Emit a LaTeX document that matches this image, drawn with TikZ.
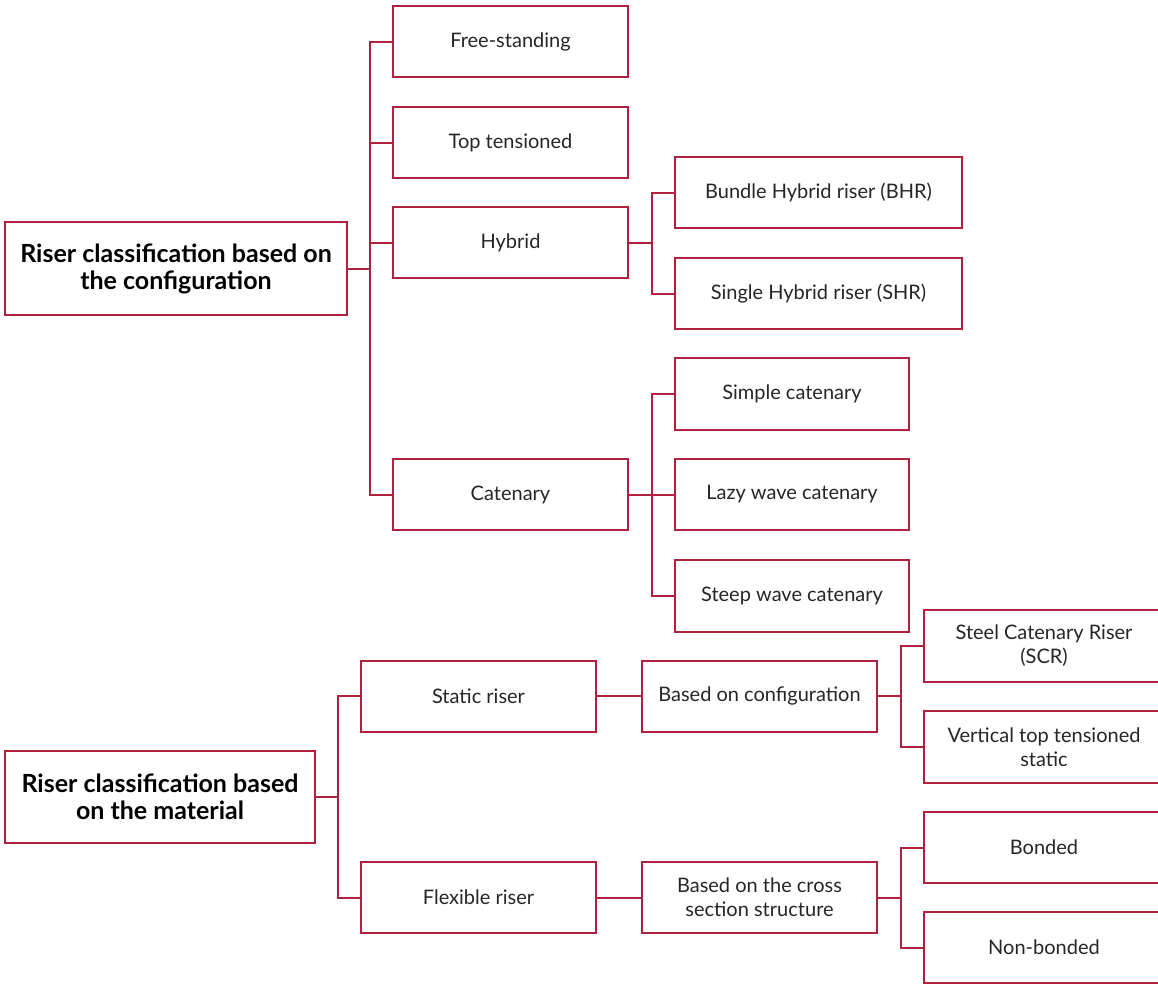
\documentclass[tikz,border=0pt]{standalone}
\usepackage{fontspec}
\setmainfont{Lato}
\definecolor{rc}{RGB}{178,32,64}
\begin{document}
\begin{tikzpicture}[x=1pt,y=-1pt,
  bx/.style={draw=rc,line width=2pt,fill=white,inner sep=0pt,align=center,font=\fontsize{20}{24}\selectfont,text=black!85},
  rootbx/.style={bx,font=\bfseries\fontsize{25}{27}\selectfont,text=black},
  ln/.style={draw=rc,line width=2pt}]
\useasboundingbox (0,0) rectangle (1158,985);
% top tree
\node[rootbx,minimum width=342pt,minimum height=93pt] (r1) at (176,268.5) {Riser classification based on\\the configuration};
\node[bx,minimum width=235pt,minimum height=71pt] (fs) at (510.5,41.5) {Free-standing};
\node[bx,minimum width=235pt,minimum height=71pt] (tt) at (510.5,142.5) {Top tensioned};
\node[bx,minimum width=235pt,minimum height=71pt] (hy) at (510.5,242.5) {Hybrid};
\node[bx,minimum width=235pt,minimum height=71pt] (ca) at (510.5,494.5) {Catenary};
\node[bx,minimum width=287pt,minimum height=71pt] (bhr) at (818.5,192.5) {Bundle Hybrid riser (BHR)};
\node[bx,minimum width=287pt,minimum height=71pt] (shr) at (818.5,293.5) {Single Hybrid riser (SHR)};
\node[bx,minimum width=234pt,minimum height=72pt] (sc) at (792,394) {Simple catenary};
\node[bx,minimum width=234pt,minimum height=71pt] (lw) at (792,494.5) {Lazy wave catenary};
\node[bx,minimum width=234pt,minimum height=72pt] (sw) at (792,596) {Steep wave catenary};
\coordinate (t1) at (370,0);
\coordinate (t2) at (652,0);
\draw[ln] (r1.east) -- (r1.east -| t1);
\draw[ln] (fs.west) -| (t1 |- ca.west) -- (ca.west);
\draw[ln] (tt.west) -- (tt.west -| t1);
\draw[ln] (hy.west) -- (hy.west -| t1);
\draw[ln] (hy.east) -- (hy.east -| t2);
\draw[ln] (bhr.west) -| (t2 |- shr.west) -- (shr.west);
\draw[ln] (ca.east) -- (lw.west);
\draw[ln] (sc.west) -| (t2 |- sw.west) -- (sw.west);
% bottom tree
\node[rootbx,minimum width=310pt,minimum height=92pt] (r2) at (160,797) {Riser classification based\\on the material};
\node[bx,minimum width=235pt,minimum height=71pt] (st) at (478.5,696) {Static riser};
\node[bx,minimum width=235pt,minimum height=71pt] (fl) at (478.5,897.5) {Flexible riser};
\node[bx,minimum width=235pt,minimum height=71pt] (bc) at (759.5,696) {Based on configuration};
\node[bx,minimum width=235pt,minimum height=71pt] (bx2) at (759.5,897.5) {Based on the cross\\section structure};
\node[bx,minimum width=240pt,minimum height=72pt,anchor=west] (scr) at (923,646) {Steel Catenary Riser\\(SCR)};
\node[bx,minimum width=240pt,minimum height=72pt,anchor=west] (vtt) at (923,747) {Vertical top tensioned\\static};
\node[bx,minimum width=240pt,minimum height=71pt,anchor=west] (bo) at (923,847.5) {Bonded};
\node[bx,minimum width=240pt,minimum height=71pt,anchor=west] (nb) at (923,947.5) {Non-bonded};
\coordinate (t3) at (338,0);
\coordinate (t4) at (901,0);
\draw[ln] (r2.east) -- (r2.east -| t3);
\draw[ln] (st.west) -| (t3 |- fl.west) -- (fl.west);
\draw[ln] (st.east) -- (bc.west);
\draw[ln] (fl.east) -- (bx2.west);
\draw[ln] (bc.east) -- (bc.east -| t4);
\draw[ln] (scr.west) -| (t4 |- vtt.west) -- (vtt.west);
\draw[ln] (bx2.east) -- (bx2.east -| t4);
\draw[ln] (bo.west) -| (t4 |- nb.west) -- (nb.west);
\end{tikzpicture}
\end{document}
